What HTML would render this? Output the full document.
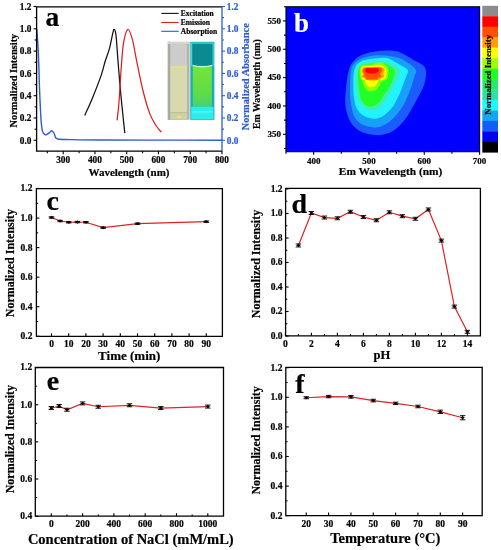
<!DOCTYPE html><html><head><meta charset="utf-8"><style>html,body{margin:0;padding:0;background:#fff}svg{display:block;will-change:transform}text{font-family:"Liberation Serif", serif;font-weight:bold}</style></head><body>
<svg width="501" height="550" viewBox="0 0 501 550">
<rect width="501" height="550" fill="#fff"/>
<rect x="167.8" y="41.8" width="21.8" height="78" fill="#b4b5aa"/>
<rect x="167.8" y="41.8" width="2.5" height="78" fill="#a8a9a0"/>
<rect x="168" y="42" width="21.4" height="2" fill="#d6d6cc"/>
<rect x="170.3" y="43.8" width="16.7" height="21.4" fill="#cbcccb"/>
<rect x="170.3" y="65.2" width="16.7" height="47.4" fill="#d8daae"/>
<rect x="170.3" y="66.6" width="16.7" height="1.2" fill="#e2e28e"/>
<rect x="170.3" y="112.6" width="16.7" height="6.6" fill="#cfd0a8"/>
<rect x="170.3" y="112.3" width="16.7" height="0.8" fill="#b9b990"/>
<ellipse cx="179.3" cy="117" rx="2.8" ry="1.2" fill="#e8e870"/>
<rect x="190.3" y="41.8" width="24.1" height="78" fill="#18b0b4"/>
<rect x="191.1" y="42.6" width="22.5" height="23.6" fill="#3ee0e4"/>
<rect x="192.2" y="43.7" width="20.4" height="22.2" fill="#0b8a91"/>
<defs><linearGradient id="gv" x1="0" y1="0" x2="0" y2="1"><stop offset="0" stop-color="#76e43a"/><stop offset="0.7" stop-color="#5edc48"/><stop offset="1" stop-color="#46d076"/></linearGradient></defs>
<rect x="192.8" y="65.9" width="19" height="41" fill="url(#gv)"/>
<path d="M192.5,65.3Q202.4,68.4 212.3,65.3" fill="none" stroke="#c8f4ee" stroke-width="1.1"/>
<rect x="191.2" y="106.8" width="22.3" height="12.2" fill="#28eeee"/>
<rect x="192.5" y="111.5" width="19.5" height="0.9" fill="#7af6f6"/>
<path d="M36.8,29.1C37.07,33.25 37.95,44.18 38.4,54C38.85,63.82 39.08,77.38 39.5,88C39.92,98.62 40.4,110.47 40.9,117.7C41.4,124.93 41.73,128.55 42.5,131.4C43.27,134.25 44.5,134.45 45.5,134.8C46.5,135.15 47.48,134.18 48.5,133.5C49.52,132.82 50.7,130.78 51.6,130.7C52.5,130.62 53.15,131.75 53.9,133C54.65,134.25 55.08,137.15 56.1,138.2C57.12,139.25 57.68,139.07 60,139.3C62.32,139.53 63.33,139.48 70,139.6C76.67,139.72 86.67,139.92 100,140C113.33,140.08 129.67,140.07 150,140.1C170.33,140.13 210,140.18 222,140.2" fill="none" stroke="#2b5cd2" stroke-width="1.4"/>
<path d="M84.8,115.4C86.18,112.23 90.33,103.2 93.1,96.4C95.87,89.6 99.4,80.42 101.4,74.6C103.4,68.78 103.75,65.87 105.1,61.5C106.45,57.13 108.22,53.13 109.5,48.4C110.78,43.67 112,36.27 112.8,33.1C113.6,29.93 113.77,29.03 114.3,29.4C114.83,29.77 115.35,29.58 116,35.3C116.65,41.02 117.47,54.6 118.2,63.7C118.93,72.8 119.6,81.18 120.4,89.9C121.2,98.62 122.27,108.8 123,116C123.73,123.2 124.5,130.25 124.8,133.1" fill="none" stroke="#111" stroke-width="1.25"/>
<path d="M117.1,120.4C117.4,117.5 118.17,112.45 118.9,103C119.63,93.55 120.7,73.9 121.5,63.7C122.3,53.5 122.62,47.52 123.7,41.8C124.78,36.08 126.55,29.75 128,29.4C129.45,29.05 130.87,33.98 132.4,39.7C133.93,45.42 135.38,54.98 137.2,63.7C139.02,72.42 141.18,83.63 143.3,92C145.42,100.37 147.78,108.32 149.9,113.9C152.02,119.48 154.1,122.45 156,125.5C157.9,128.55 160.42,131.08 161.3,132.2" fill="none" stroke="#dd2020" stroke-width="1.25"/>
<path d="M222,6.8H36.6M36.6,6.8V151.2H222" fill="none" stroke="#000" stroke-width="1.3"/>
<line x1="222" y1="6.2" x2="222" y2="151.8" stroke="#2b5cd2" stroke-width="1.3"/>
<line x1="33.6" y1="140.3" x2="36.6" y2="140.3" stroke="#000" stroke-width="1.1"/>
<line x1="222" y1="140.3" x2="225" y2="140.3" stroke="#2b5cd2" stroke-width="1.1"/>
<text x="31.4" y="143.6" text-anchor="end" font-size="9.3" fill="#000" stroke="#000" stroke-width="0.2">0.0</text>
<text x="226.8" y="143.6" text-anchor="start" font-size="9.3" fill="#2b5cd2" stroke="#2b5cd2" stroke-width="0.2">0.0</text>
<line x1="34.6" y1="129.15" x2="36.6" y2="129.15" stroke="#000" stroke-width="1.1"/>
<line x1="222" y1="129.15" x2="224" y2="129.15" stroke="#2b5cd2" stroke-width="1.1"/>
<line x1="33.6" y1="118" x2="36.6" y2="118" stroke="#000" stroke-width="1.1"/>
<line x1="222" y1="118" x2="225" y2="118" stroke="#2b5cd2" stroke-width="1.1"/>
<text x="31.4" y="121.3" text-anchor="end" font-size="9.3" fill="#000" stroke="#000" stroke-width="0.2">0.2</text>
<text x="226.8" y="121.3" text-anchor="start" font-size="9.3" fill="#2b5cd2" stroke="#2b5cd2" stroke-width="0.2">0.2</text>
<line x1="34.6" y1="106.85" x2="36.6" y2="106.85" stroke="#000" stroke-width="1.1"/>
<line x1="222" y1="106.85" x2="224" y2="106.85" stroke="#2b5cd2" stroke-width="1.1"/>
<line x1="33.6" y1="95.7" x2="36.6" y2="95.7" stroke="#000" stroke-width="1.1"/>
<line x1="222" y1="95.7" x2="225" y2="95.7" stroke="#2b5cd2" stroke-width="1.1"/>
<text x="31.4" y="99" text-anchor="end" font-size="9.3" fill="#000" stroke="#000" stroke-width="0.2">0.4</text>
<text x="226.8" y="99" text-anchor="start" font-size="9.3" fill="#2b5cd2" stroke="#2b5cd2" stroke-width="0.2">0.4</text>
<line x1="34.6" y1="84.55" x2="36.6" y2="84.55" stroke="#000" stroke-width="1.1"/>
<line x1="222" y1="84.55" x2="224" y2="84.55" stroke="#2b5cd2" stroke-width="1.1"/>
<line x1="33.6" y1="73.4" x2="36.6" y2="73.4" stroke="#000" stroke-width="1.1"/>
<line x1="222" y1="73.4" x2="225" y2="73.4" stroke="#2b5cd2" stroke-width="1.1"/>
<text x="31.4" y="76.7" text-anchor="end" font-size="9.3" fill="#000" stroke="#000" stroke-width="0.2">0.6</text>
<text x="226.8" y="76.7" text-anchor="start" font-size="9.3" fill="#2b5cd2" stroke="#2b5cd2" stroke-width="0.2">0.6</text>
<line x1="34.6" y1="62.25" x2="36.6" y2="62.25" stroke="#000" stroke-width="1.1"/>
<line x1="222" y1="62.25" x2="224" y2="62.25" stroke="#2b5cd2" stroke-width="1.1"/>
<line x1="33.6" y1="51.1" x2="36.6" y2="51.1" stroke="#000" stroke-width="1.1"/>
<line x1="222" y1="51.1" x2="225" y2="51.1" stroke="#2b5cd2" stroke-width="1.1"/>
<text x="31.4" y="54.4" text-anchor="end" font-size="9.3" fill="#000" stroke="#000" stroke-width="0.2">0.8</text>
<text x="226.8" y="54.4" text-anchor="start" font-size="9.3" fill="#2b5cd2" stroke="#2b5cd2" stroke-width="0.2">0.8</text>
<line x1="34.6" y1="39.95" x2="36.6" y2="39.95" stroke="#000" stroke-width="1.1"/>
<line x1="222" y1="39.95" x2="224" y2="39.95" stroke="#2b5cd2" stroke-width="1.1"/>
<line x1="33.6" y1="28.8" x2="36.6" y2="28.8" stroke="#000" stroke-width="1.1"/>
<line x1="222" y1="28.8" x2="225" y2="28.8" stroke="#2b5cd2" stroke-width="1.1"/>
<text x="31.4" y="32.1" text-anchor="end" font-size="9.3" fill="#000" stroke="#000" stroke-width="0.2">1.0</text>
<text x="226.8" y="32.1" text-anchor="start" font-size="9.3" fill="#2b5cd2" stroke="#2b5cd2" stroke-width="0.2">1.0</text>
<line x1="34.6" y1="17.65" x2="36.6" y2="17.65" stroke="#000" stroke-width="1.1"/>
<line x1="222" y1="17.65" x2="224" y2="17.65" stroke="#2b5cd2" stroke-width="1.1"/>
<line x1="33.6" y1="6.5" x2="36.6" y2="6.5" stroke="#000" stroke-width="1.1"/>
<line x1="222" y1="6.5" x2="225" y2="6.5" stroke="#2b5cd2" stroke-width="1.1"/>
<text x="31.4" y="9.8" text-anchor="end" font-size="9.3" fill="#000" stroke="#000" stroke-width="0.2">1.2</text>
<text x="226.8" y="9.8" text-anchor="start" font-size="9.3" fill="#2b5cd2" stroke="#2b5cd2" stroke-width="0.2">1.2</text>
<line x1="47.33" y1="151.2" x2="47.33" y2="153.2" stroke="#000" stroke-width="1.1"/>
<line x1="63.2" y1="151.2" x2="63.2" y2="154.2" stroke="#000" stroke-width="1.1"/>
<text x="63.2" y="163" text-anchor="middle" font-size="9.3" fill="#000" stroke="#000" stroke-width="0.2">300</text>
<line x1="79.08" y1="151.2" x2="79.08" y2="153.2" stroke="#000" stroke-width="1.1"/>
<line x1="94.95" y1="151.2" x2="94.95" y2="154.2" stroke="#000" stroke-width="1.1"/>
<text x="94.95" y="163" text-anchor="middle" font-size="9.3" fill="#000" stroke="#000" stroke-width="0.2">400</text>
<line x1="110.83" y1="151.2" x2="110.83" y2="153.2" stroke="#000" stroke-width="1.1"/>
<line x1="126.7" y1="151.2" x2="126.7" y2="154.2" stroke="#000" stroke-width="1.1"/>
<text x="126.7" y="163" text-anchor="middle" font-size="9.3" fill="#000" stroke="#000" stroke-width="0.2">500</text>
<line x1="142.57" y1="151.2" x2="142.57" y2="153.2" stroke="#000" stroke-width="1.1"/>
<line x1="158.45" y1="151.2" x2="158.45" y2="154.2" stroke="#000" stroke-width="1.1"/>
<text x="158.45" y="163" text-anchor="middle" font-size="9.3" fill="#000" stroke="#000" stroke-width="0.2">600</text>
<line x1="174.32" y1="151.2" x2="174.32" y2="153.2" stroke="#000" stroke-width="1.1"/>
<line x1="190.2" y1="151.2" x2="190.2" y2="154.2" stroke="#000" stroke-width="1.1"/>
<text x="190.2" y="163" text-anchor="middle" font-size="9.3" fill="#000" stroke="#000" stroke-width="0.2">700</text>
<line x1="206.07" y1="151.2" x2="206.07" y2="153.2" stroke="#000" stroke-width="1.1"/>
<line x1="221.95" y1="151.2" x2="221.95" y2="154.2" stroke="#000" stroke-width="1.1"/>
<text x="221.95" y="163" text-anchor="middle" font-size="9.3" fill="#000" stroke="#000" stroke-width="0.2">800</text>
<text x="129" y="175.93" text-anchor="middle" font-size="11" fill="#000" stroke="#000" stroke-width="0.2">Wavelength (nm)</text>
<text transform="translate(17.2,80.6) rotate(-90)" text-anchor="middle" font-size="10.4" fill="#000" stroke="#000" stroke-width="0.2">Normalized Intensity</text>
<text transform="translate(248.6,76.8) rotate(-90)" text-anchor="middle" font-size="10.4" fill="#2b5cd2" stroke="#2b5cd2" stroke-width="0.2">Normalized Absorbance</text>
<text x="45.4" y="26" text-anchor="start" font-size="27.5" fill="#000" stroke="#000" stroke-width="0.2">a</text>
<line x1="161.3" y1="13.4" x2="178.7" y2="13.4" stroke="#111" stroke-width="1.1"/>
<text x="180.8" y="16" text-anchor="start" font-size="7.5" fill="#000" stroke="#000" stroke-width="0.2">Excitation</text>
<line x1="161.3" y1="22.5" x2="178.7" y2="22.5" stroke="#dd2020" stroke-width="1.1"/>
<text x="180.8" y="25.1" text-anchor="start" font-size="7.5" fill="#000" stroke="#000" stroke-width="0.2">Emission</text>
<line x1="161.3" y1="31.3" x2="178.7" y2="31.3" stroke="#2b5cd2" stroke-width="1.1"/>
<text x="180.8" y="33.9" text-anchor="start" font-size="7.5" fill="#000" stroke="#000" stroke-width="0.2">Absorption</text>
<rect x="286" y="6.7" width="193.6" height="145" fill="#0000fe"/>
<defs><filter id="hb" x="-10%" y="-10%" width="120%" height="120%"><feGaussianBlur stdDeviation="0.55"/></filter></defs>
<g filter="url(#hb)">
<path d="M352,63C353.42,61.17 355.67,58.58 358,57C360.33,55.42 363.17,54.42 366,53.5C368.83,52.58 371.83,52 375,51.5C378.17,51 382.33,50.65 385,50.5C387.67,50.35 388.67,50.35 391,50.6C393.33,50.85 396.5,51.18 399,52C401.5,52.82 403.5,54.13 406,55.5C408.5,56.87 411.5,58.82 414,60.2C416.5,61.58 419.17,62.58 421,63.8C422.83,65.02 424.17,65.97 425,67.5C425.83,69.03 425.93,70.92 426,73C426.07,75.08 425.9,77.5 425.4,80C424.9,82.5 424.02,85.5 423,88C421.98,90.5 420.55,92.67 419.3,95C418.05,97.33 416.8,99.67 415.5,102C414.2,104.33 412.83,106.67 411.5,109C410.17,111.33 408.92,113.83 407.5,116C406.08,118.17 404.75,120 403,122C401.25,124 399.17,126.25 397,128C394.83,129.75 392.67,131.33 390,132.5C387.33,133.67 383.83,134.62 381,135C378.17,135.38 375.5,135.05 373,134.8C370.5,134.55 368.33,134.22 366,133.5C363.67,132.78 361.17,131.83 359,130.5C356.83,129.17 354.67,127.42 353,125.5C351.33,123.58 350.08,121.25 349,119C347.92,116.75 347.12,114.5 346.5,112C345.88,109.5 345.48,106.83 345.3,104C345.12,101.17 345.23,98.17 345.4,95C345.57,91.83 345.95,88.17 346.3,85C346.65,81.83 346.97,78.83 347.5,76C348.03,73.17 348.75,70.17 349.5,68C350.25,65.83 350.58,64.83 352,63Z" fill="#1a5cff"/>
<path d="M351,70C351.47,67.5 352,66.5 353,65C354,63.5 355.33,62.17 357,61C358.67,59.83 360.83,58.83 363,58C365.17,57.17 367.17,56.45 370,56C372.83,55.55 376.67,55.3 380,55.3C383.33,55.3 386.67,55.52 390,56C393.33,56.48 397.17,57.17 400,58.2C402.83,59.23 404.83,60.82 407,62.2C409.17,63.58 411.45,65.03 413,66.5C414.55,67.97 415.97,69.58 416.3,71C416.63,72.42 415.38,73.83 415,75C414.62,76.17 414.5,76.33 414,78C413.5,79.67 412.83,82.5 412,85C411.17,87.5 410,90.5 409,93C408,95.5 407,97.83 406,100C405,102.17 404.33,103.83 403,106C401.67,108.17 399.67,110.92 398,113C396.33,115.08 395,116.67 393,118.5C391,120.33 388.5,122.55 386,124C383.5,125.45 380.33,126.65 378,127.2C375.67,127.75 374.17,127.53 372,127.3C369.83,127.07 367.33,126.77 365,125.8C362.67,124.83 359.83,123.13 358,121.5C356.17,119.87 355,118.08 354,116C353,113.92 352.58,111.67 352,109C351.42,106.33 350.83,103.17 350.5,100C350.17,96.83 350.05,93.33 350,90C349.95,86.67 350.03,83.33 350.2,80C350.37,76.67 350.53,72.5 351,70Z" fill="#18a0f8"/>
<path d="M353.8,72C354.17,70.17 354.8,68.42 355.5,67C356.2,65.58 356.75,64.58 358,63.5C359.25,62.42 361,61.25 363,60.5C365,59.75 367.17,59.42 370,59C372.83,58.58 377,58.12 380,58C383,57.88 385.5,57.63 388,58.3C390.5,58.97 392.67,60.72 395,62C397.33,63.28 400,64.83 402,66C404,67.17 406,68 407,69C408,70 408.17,70.67 408,72C407.83,73.33 406.83,74.83 406,77C405.17,79.17 404,82.33 403,85C402,87.67 401.17,90.33 400,93C398.83,95.67 397.17,98.75 396,101C394.83,103.25 394.17,104.83 393,106.5C391.83,108.17 390.42,109.58 389,111C387.58,112.42 386.33,113.78 384.5,115C382.67,116.22 380.08,117.72 378,118.3C375.92,118.88 374,118.72 372,118.5C370,118.28 368,117.92 366,117C364,116.08 361.58,114.5 360,113C358.42,111.5 357.33,109.67 356.5,108C355.67,106.33 355.48,105.17 355,103C354.52,100.83 353.88,98 353.6,95C353.32,92 353.35,87.83 353.3,85C353.25,82.17 353.22,80.17 353.3,78C353.38,75.83 353.43,73.83 353.8,72Z" fill="#22f4ff"/>
<path d="M356,72C356.32,69.5 356.83,68.28 357.5,67C358.17,65.72 358.75,65.08 360,64.3C361.25,63.52 363,62.85 365,62.3C367,61.75 369.5,61.22 372,61C374.5,60.78 377.33,60.75 380,61C382.67,61.25 385.83,61.83 388,62.5C390.17,63.17 391.17,64 393,65C394.83,66 397.83,67.33 399,68.5C400.17,69.67 400.17,70.58 400,72C399.83,73.42 398.83,75.17 398,77C397.17,78.83 396,81 395,83C394,85 393.17,86.67 392,89C390.83,91.33 389.33,94.67 388,97C386.67,99.33 385.5,101.17 384,103C382.5,104.83 380.92,106.75 379,108C377.08,109.25 374.67,110.33 372.5,110.5C370.33,110.67 367.92,109.92 366,109C364.08,108.08 362.33,106.83 361,105C359.67,103.17 358.77,100.5 358,98C357.23,95.5 356.8,92.67 356.4,90C356,87.33 355.67,85 355.6,82C355.53,79 355.68,74.5 356,72Z" fill="#3cf0b0"/>
<path d="M358,72C358.25,70.25 358.83,68.62 359.5,67.5C360.17,66.38 360.58,65.88 362,65.3C363.42,64.72 365.83,64.25 368,64C370.17,63.75 372.33,63.92 375,63.8C377.67,63.68 381.5,62.88 384,63.3C386.5,63.72 388.33,65.35 390,66.3C391.67,67.25 393.17,68.05 394,69C394.83,69.95 395,70.67 395,72C395,73.33 394.67,75 394,77C393.33,79 392,81.83 391,84C390,86.17 389.08,88.33 388,90C386.92,91.67 385.67,92.23 384.5,94C383.33,95.77 382.42,98.77 381,100.6C379.58,102.43 377.83,104 376,105C374.17,106 372,106.77 370,106.6C368,106.43 365.58,105.43 364,104C362.42,102.57 361.3,100.33 360.5,98C359.7,95.67 359.52,92.17 359.2,90C358.88,87.83 358.8,87 358.6,85C358.4,83 358.1,80.17 358,78C357.9,75.83 357.75,73.75 358,72Z" fill="#22ff28"/>
<path d="M359.8,70C360,68.75 360.13,67.33 361,66.5C361.87,65.67 363.17,65.33 365,65C366.83,64.67 369.5,64.92 372,64.5C374.5,64.08 377.67,62.33 380,62.5C382.33,62.67 384.58,64.25 386,65.5C387.42,66.75 388.17,68.25 388.5,70C388.83,71.75 388.42,74.33 388,76C387.58,77.67 387.17,79 386,80C384.83,81 382,81.17 381,82C380,82.83 380.58,83.92 380,85C379.42,86.08 378.42,87.53 377.5,88.5C376.58,89.47 375.5,90.3 374.5,90.8C373.5,91.3 372.58,91.5 371.5,91.5C370.42,91.5 369.08,91.38 368,90.8C366.92,90.22 365.75,88.97 365,88C364.25,87.03 363.92,86 363.5,85C363.08,84 363,83.17 362.5,82C362,80.83 360.95,79.33 360.5,78C360.05,76.67 359.92,75.33 359.8,74C359.68,72.67 359.6,71.25 359.8,70Z" fill="#90ff00"/>
<path d="M361.4,69C361.67,67.58 361.57,67 363,66.5C364.43,66 367.17,66.25 370,66C372.83,65.75 377.5,64.67 380,65C382.5,65.33 383.92,67 385,68C386.08,69 386.33,69.67 386.5,71C386.67,72.33 386.42,74.58 386,76C385.58,77.42 385.23,78.83 384,79.5C382.77,80.17 379.63,79.5 378.6,80C377.57,80.5 378.23,81.67 377.8,82.5C377.37,83.33 376.72,84.28 376,85C375.28,85.72 374.28,86.43 373.5,86.8C372.72,87.17 372.05,87.22 371.3,87.2C370.55,87.18 369.72,87.07 369,86.7C368.28,86.33 367.58,85.7 367,85C366.42,84.3 365.87,83.33 365.5,82.5C365.13,81.67 365.3,80.5 364.8,80C364.3,79.5 363.07,80.33 362.5,79.5C361.93,78.67 361.58,76.75 361.4,75C361.22,73.25 361.13,70.42 361.4,69Z" fill="#ffff00"/>
<path d="M361.8,70C362.17,69.22 362.3,67.8 364,67.3C365.7,66.8 369.33,67.08 372,67C374.67,66.92 378,66.55 380,66.8C382,67.05 383.25,67.8 384,68.5C384.75,69.2 384.67,70.17 384.5,71C384.33,71.83 383,72.58 383,73.5C383,74.42 384.83,75.67 384.5,76.5C384.17,77.33 382,77.92 381,78.5C380,79.08 380,79.68 378.5,80C377,80.32 374.08,80.4 372,80.4C369.92,80.4 367.25,80.37 366,80C364.75,79.63 365.17,78.7 364.5,78.2C363.83,77.7 362.28,77.7 362,77C361.72,76.3 362.83,74.83 362.8,74C362.77,73.17 361.97,72.67 361.8,72C361.63,71.33 361.43,70.78 361.8,70Z" fill="#ffa000"/>
<path d="M363,70C363.33,69.33 363.5,68.38 365,68C366.5,67.62 369.5,67.73 372,67.7C374.5,67.67 378.33,67.5 380,67.8C381.67,68.1 381.75,68.8 382,69.5C382.25,70.2 381.83,71.25 381.5,72C381.17,72.75 380,73.25 380,74C380,74.75 381.83,75.92 381.5,76.5C381.17,77.08 378.67,77.03 378,77.5C377.33,77.97 378.5,78.95 377.5,79.3C376.5,79.65 373.83,79.6 372,79.6C370.17,79.6 367.5,79.65 366.5,79.3C365.5,78.95 366.5,77.97 366,77.5C365.5,77.03 363.75,77.08 363.5,76.5C363.25,75.92 364.58,74.75 364.5,74C364.42,73.25 363.25,72.67 363,72C362.75,71.33 362.67,70.67 363,70Z" fill="#ff5000"/>
<path d="M365.3,69C365.58,68.53 365.88,68.37 367,68.2C368.12,68.03 370.33,68 372,68C373.67,68 375.87,67.95 377,68.2C378.13,68.45 378.63,68.9 378.8,69.5C378.97,70.1 378.63,71.18 378,71.8C377.37,72.42 376.33,72.93 375,73.2C373.67,73.47 371.42,73.5 370,73.4C368.58,73.3 367.28,73 366.5,72.6C365.72,72.2 365.5,71.6 365.3,71C365.1,70.4 365.02,69.47 365.3,69Z" fill="#ff0000"/>
</g>
<path d="M286,6.7H479.6V151.7H286Z" fill="none" stroke="#000" stroke-width="1.15"/>
<line x1="286" y1="151.7" x2="286" y2="153.7" stroke="#000" stroke-width="1.1"/>
<line x1="313.65" y1="151.7" x2="313.65" y2="154.7" stroke="#000" stroke-width="1.1"/>
<text x="313.65" y="164.3" text-anchor="middle" font-size="9" fill="#000" stroke="#000" stroke-width="0.2">400</text>
<line x1="341.31" y1="151.7" x2="341.31" y2="153.7" stroke="#000" stroke-width="1.1"/>
<line x1="368.97" y1="151.7" x2="368.97" y2="154.7" stroke="#000" stroke-width="1.1"/>
<text x="368.97" y="164.3" text-anchor="middle" font-size="9" fill="#000" stroke="#000" stroke-width="0.2">500</text>
<line x1="396.62" y1="151.7" x2="396.62" y2="153.7" stroke="#000" stroke-width="1.1"/>
<line x1="424.27" y1="151.7" x2="424.27" y2="154.7" stroke="#000" stroke-width="1.1"/>
<text x="424.27" y="164.3" text-anchor="middle" font-size="9" fill="#000" stroke="#000" stroke-width="0.2">600</text>
<line x1="451.93" y1="151.7" x2="451.93" y2="153.7" stroke="#000" stroke-width="1.1"/>
<line x1="479.59" y1="151.7" x2="479.59" y2="154.7" stroke="#000" stroke-width="1.1"/>
<text x="479.59" y="164.3" text-anchor="middle" font-size="9" fill="#000" stroke="#000" stroke-width="0.2">700</text>
<line x1="284" y1="148.48" x2="286" y2="148.48" stroke="#000" stroke-width="1.1"/>
<line x1="283" y1="134.3" x2="286" y2="134.3" stroke="#000" stroke-width="1.1"/>
<text x="281.1" y="136.9" text-anchor="end" font-size="9" fill="#000" stroke="#000" stroke-width="0.2">350</text>
<line x1="284" y1="120.13" x2="286" y2="120.13" stroke="#000" stroke-width="1.1"/>
<line x1="283" y1="105.95" x2="286" y2="105.95" stroke="#000" stroke-width="1.1"/>
<text x="281.1" y="108.55" text-anchor="end" font-size="9" fill="#000" stroke="#000" stroke-width="0.2">400</text>
<line x1="284" y1="91.78" x2="286" y2="91.78" stroke="#000" stroke-width="1.1"/>
<line x1="283" y1="77.6" x2="286" y2="77.6" stroke="#000" stroke-width="1.1"/>
<text x="281.1" y="80.2" text-anchor="end" font-size="9" fill="#000" stroke="#000" stroke-width="0.2">450</text>
<line x1="284" y1="63.43" x2="286" y2="63.43" stroke="#000" stroke-width="1.1"/>
<line x1="283" y1="49.25" x2="286" y2="49.25" stroke="#000" stroke-width="1.1"/>
<text x="281.1" y="51.85" text-anchor="end" font-size="9" fill="#000" stroke="#000" stroke-width="0.2">500</text>
<line x1="284" y1="35.08" x2="286" y2="35.08" stroke="#000" stroke-width="1.1"/>
<line x1="283" y1="20.9" x2="286" y2="20.9" stroke="#000" stroke-width="1.1"/>
<text x="281.1" y="23.5" text-anchor="end" font-size="9" fill="#000" stroke="#000" stroke-width="0.2">550</text>
<line x1="284" y1="6.73" x2="286" y2="6.73" stroke="#000" stroke-width="1.1"/>
<text x="390.6" y="175.16" text-anchor="middle" font-size="11.4" fill="#000" stroke="#000" stroke-width="0.2">Em Wavelength (nm)</text>
<text transform="translate(260.2,84.2) rotate(-90)" text-anchor="middle" font-size="9.9" fill="#000" stroke="#000" stroke-width="0.2">Em Wavelength (nm)</text>
<text x="294" y="32" text-anchor="start" font-size="27" fill="#fff" stroke="#fff" stroke-width="0.2">b</text>
<rect x="482.3" y="5.8" width="15.7" height="10.76" fill="#8c8c8c"/>
<rect x="482.3" y="16.26" width="15.7" height="10.76" fill="#ff0000"/>
<rect x="482.3" y="26.73" width="15.7" height="10.76" fill="#ff5000"/>
<rect x="482.3" y="37.19" width="15.7" height="10.76" fill="#ffa000"/>
<rect x="482.3" y="47.66" width="15.7" height="10.76" fill="#ffff00"/>
<rect x="482.3" y="58.12" width="15.7" height="10.76" fill="#a0ff00"/>
<rect x="482.3" y="68.59" width="15.7" height="10.76" fill="#20ff20"/>
<rect x="482.3" y="79.05" width="15.7" height="10.76" fill="#20f060"/>
<rect x="482.3" y="89.51" width="15.7" height="10.76" fill="#30e0a0"/>
<rect x="482.3" y="99.98" width="15.7" height="10.76" fill="#20f8ff"/>
<rect x="482.3" y="110.44" width="15.7" height="10.76" fill="#10a8f0"/>
<rect x="482.3" y="120.91" width="15.7" height="10.76" fill="#1060f8"/>
<rect x="482.3" y="131.37" width="15.7" height="10.76" fill="#0000f0"/>
<rect x="482.3" y="141.84" width="15.7" height="10.76" fill="#000000"/>
<text transform="translate(491.4,74.8) rotate(-90)" text-anchor="middle" font-size="8.85" fill="#000" stroke="#000" stroke-width="0.2">Normalized Intensity</text>
<polyline points="51.5,217.47 60.1,221.02 68.7,222.27 77.3,222.05 85.9,222.27 103.1,227.67 137.5,223.68 206.3,221.67" fill="none" stroke="#dd2222" stroke-width="1.2"/>
<path d="M36.4,188.6H222.4V336.3H36.4Z" fill="none" stroke="#000" stroke-width="1.3"/>
<line x1="51.5" y1="336.3" x2="51.5" y2="333.3" stroke="#000" stroke-width="1.1"/>
<text x="51.5" y="347.3" text-anchor="middle" font-size="9.5" fill="#000" stroke="#000" stroke-width="0.2">0</text>
<line x1="68.7" y1="336.3" x2="68.7" y2="333.3" stroke="#000" stroke-width="1.1"/>
<text x="68.7" y="347.3" text-anchor="middle" font-size="9.5" fill="#000" stroke="#000" stroke-width="0.2">10</text>
<line x1="85.9" y1="336.3" x2="85.9" y2="333.3" stroke="#000" stroke-width="1.1"/>
<text x="85.9" y="347.3" text-anchor="middle" font-size="9.5" fill="#000" stroke="#000" stroke-width="0.2">20</text>
<line x1="103.1" y1="336.3" x2="103.1" y2="333.3" stroke="#000" stroke-width="1.1"/>
<text x="103.1" y="347.3" text-anchor="middle" font-size="9.5" fill="#000" stroke="#000" stroke-width="0.2">30</text>
<line x1="120.3" y1="336.3" x2="120.3" y2="333.3" stroke="#000" stroke-width="1.1"/>
<text x="120.3" y="347.3" text-anchor="middle" font-size="9.5" fill="#000" stroke="#000" stroke-width="0.2">40</text>
<line x1="137.5" y1="336.3" x2="137.5" y2="333.3" stroke="#000" stroke-width="1.1"/>
<text x="137.5" y="347.3" text-anchor="middle" font-size="9.5" fill="#000" stroke="#000" stroke-width="0.2">50</text>
<line x1="154.7" y1="336.3" x2="154.7" y2="333.3" stroke="#000" stroke-width="1.1"/>
<text x="154.7" y="347.3" text-anchor="middle" font-size="9.5" fill="#000" stroke="#000" stroke-width="0.2">60</text>
<line x1="171.9" y1="336.3" x2="171.9" y2="333.3" stroke="#000" stroke-width="1.1"/>
<text x="171.9" y="347.3" text-anchor="middle" font-size="9.5" fill="#000" stroke="#000" stroke-width="0.2">70</text>
<line x1="189.1" y1="336.3" x2="189.1" y2="333.3" stroke="#000" stroke-width="1.1"/>
<text x="189.1" y="347.3" text-anchor="middle" font-size="9.5" fill="#000" stroke="#000" stroke-width="0.2">80</text>
<line x1="206.3" y1="336.3" x2="206.3" y2="333.3" stroke="#000" stroke-width="1.1"/>
<text x="206.3" y="347.3" text-anchor="middle" font-size="9.5" fill="#000" stroke="#000" stroke-width="0.2">90</text>
<line x1="36.4" y1="321.52" x2="38.2" y2="321.52" stroke="#000" stroke-width="1"/>
<line x1="36.4" y1="291.96" x2="38.2" y2="291.96" stroke="#000" stroke-width="1"/>
<line x1="36.4" y1="262.4" x2="38.2" y2="262.4" stroke="#000" stroke-width="1"/>
<line x1="36.4" y1="232.84" x2="38.2" y2="232.84" stroke="#000" stroke-width="1"/>
<line x1="36.4" y1="203.28" x2="38.2" y2="203.28" stroke="#000" stroke-width="1"/>
<line x1="36.4" y1="336.3" x2="39.4" y2="336.3" stroke="#000" stroke-width="1.1"/>
<text x="32.4" y="339.2" text-anchor="end" font-size="9.5" fill="#000" stroke="#000" stroke-width="0.2">0.2</text>
<line x1="36.4" y1="306.74" x2="39.4" y2="306.74" stroke="#000" stroke-width="1.1"/>
<text x="32.4" y="309.64" text-anchor="end" font-size="9.5" fill="#000" stroke="#000" stroke-width="0.2">0.4</text>
<line x1="36.4" y1="277.18" x2="39.4" y2="277.18" stroke="#000" stroke-width="1.1"/>
<text x="32.4" y="280.08" text-anchor="end" font-size="9.5" fill="#000" stroke="#000" stroke-width="0.2">0.6</text>
<line x1="36.4" y1="247.62" x2="39.4" y2="247.62" stroke="#000" stroke-width="1.1"/>
<text x="32.4" y="250.52" text-anchor="end" font-size="9.5" fill="#000" stroke="#000" stroke-width="0.2">0.8</text>
<line x1="36.4" y1="218.06" x2="39.4" y2="218.06" stroke="#000" stroke-width="1.1"/>
<text x="32.4" y="220.96" text-anchor="end" font-size="9.5" fill="#000" stroke="#000" stroke-width="0.2">1.0</text>
<line x1="36.4" y1="188.5" x2="39.4" y2="188.5" stroke="#000" stroke-width="1.1"/>
<text x="32.4" y="191.4" text-anchor="end" font-size="9.5" fill="#000" stroke="#000" stroke-width="0.2">1.2</text>
<path d="M48.75,216.77H54.25M48.75,218.17H54.25M51.5,216.77V218.17" stroke="#000" stroke-width="0.9" fill="none"/>
<path d="M49.3,217.47L51.5,215.87L53.7,217.47L51.5,219.07Z" fill="#000"/>
<path d="M57.35,220.32H62.85M57.35,221.72H62.85M60.1,220.32V221.72" stroke="#000" stroke-width="0.9" fill="none"/>
<path d="M57.9,221.02L60.1,219.42L62.3,221.02L60.1,222.62Z" fill="#000"/>
<path d="M65.95,221.57H71.45M65.95,222.97H71.45M68.7,221.57V222.97" stroke="#000" stroke-width="0.9" fill="none"/>
<path d="M66.5,222.27L68.7,220.67L70.9,222.27L68.7,223.87Z" fill="#000"/>
<path d="M74.55,221.35H80.05M74.55,222.75H80.05M77.3,221.35V222.75" stroke="#000" stroke-width="0.9" fill="none"/>
<path d="M75.1,222.05L77.3,220.45L79.5,222.05L77.3,223.65Z" fill="#000"/>
<path d="M83.15,221.57H88.65M83.15,222.97H88.65M85.9,221.57V222.97" stroke="#000" stroke-width="0.9" fill="none"/>
<path d="M83.7,222.27L85.9,220.67L88.1,222.27L85.9,223.87Z" fill="#000"/>
<path d="M100.35,226.97H105.85M100.35,228.37H105.85M103.1,226.97V228.37" stroke="#000" stroke-width="0.9" fill="none"/>
<path d="M100.9,227.67L103.1,226.07L105.3,227.67L103.1,229.27Z" fill="#000"/>
<path d="M134.75,222.98H140.25M134.75,224.38H140.25M137.5,222.98V224.38" stroke="#000" stroke-width="0.9" fill="none"/>
<path d="M135.3,223.68L137.5,222.08L139.7,223.68L137.5,225.28Z" fill="#000"/>
<path d="M203.55,220.97H209.05M203.55,222.37H209.05M206.3,220.97V222.37" stroke="#000" stroke-width="0.9" fill="none"/>
<path d="M204.1,221.67L206.3,220.07L208.5,221.67L206.3,223.27Z" fill="#000"/>
<text x="46.6" y="210.4" text-anchor="start" font-size="28" fill="#000" stroke="#000" stroke-width="0.2">c</text>
<text x="129.2" y="360.29" text-anchor="middle" font-size="13" fill="#000" stroke="#000" stroke-width="0.2">Time (min)</text>
<text transform="translate(13.9,263.1) rotate(-90)" text-anchor="middle" font-size="12" fill="#000" stroke="#000" stroke-width="0.2">Normalized Intensity</text>
<polyline points="298.4,245.47 311.4,213.01 324.4,217.54 337.4,218.28 350.4,211.78 363.4,217.05 376.4,220.24 389.4,212.28 402.4,216.19 415.4,218.77 428.4,209.46 441.4,240.57 454.4,306.6 467.4,331.83" fill="none" stroke="#dd2222" stroke-width="1.2"/>
<path d="M285.6,188.3H480.4V335.8H285.6Z" fill="none" stroke="#000" stroke-width="1.3"/>
<line x1="298.4" y1="335.8" x2="298.4" y2="334" stroke="#000" stroke-width="1"/>
<line x1="324.4" y1="335.8" x2="324.4" y2="334" stroke="#000" stroke-width="1"/>
<line x1="350.4" y1="335.8" x2="350.4" y2="334" stroke="#000" stroke-width="1"/>
<line x1="376.4" y1="335.8" x2="376.4" y2="334" stroke="#000" stroke-width="1"/>
<line x1="402.4" y1="335.8" x2="402.4" y2="334" stroke="#000" stroke-width="1"/>
<line x1="428.4" y1="335.8" x2="428.4" y2="334" stroke="#000" stroke-width="1"/>
<line x1="454.4" y1="335.8" x2="454.4" y2="334" stroke="#000" stroke-width="1"/>
<line x1="285.4" y1="335.8" x2="285.4" y2="332.8" stroke="#000" stroke-width="1.1"/>
<text x="285.4" y="346.9" text-anchor="middle" font-size="9.5" fill="#000" stroke="#000" stroke-width="0.2">0</text>
<line x1="311.4" y1="335.8" x2="311.4" y2="332.8" stroke="#000" stroke-width="1.1"/>
<text x="311.4" y="346.9" text-anchor="middle" font-size="9.5" fill="#000" stroke="#000" stroke-width="0.2">2</text>
<line x1="337.4" y1="335.8" x2="337.4" y2="332.8" stroke="#000" stroke-width="1.1"/>
<text x="337.4" y="346.9" text-anchor="middle" font-size="9.5" fill="#000" stroke="#000" stroke-width="0.2">4</text>
<line x1="363.4" y1="335.8" x2="363.4" y2="332.8" stroke="#000" stroke-width="1.1"/>
<text x="363.4" y="346.9" text-anchor="middle" font-size="9.5" fill="#000" stroke="#000" stroke-width="0.2">6</text>
<line x1="389.4" y1="335.8" x2="389.4" y2="332.8" stroke="#000" stroke-width="1.1"/>
<text x="389.4" y="346.9" text-anchor="middle" font-size="9.5" fill="#000" stroke="#000" stroke-width="0.2">8</text>
<line x1="415.4" y1="335.8" x2="415.4" y2="332.8" stroke="#000" stroke-width="1.1"/>
<text x="415.4" y="346.9" text-anchor="middle" font-size="9.5" fill="#000" stroke="#000" stroke-width="0.2">10</text>
<line x1="441.4" y1="335.8" x2="441.4" y2="332.8" stroke="#000" stroke-width="1.1"/>
<text x="441.4" y="346.9" text-anchor="middle" font-size="9.5" fill="#000" stroke="#000" stroke-width="0.2">12</text>
<line x1="467.4" y1="335.8" x2="467.4" y2="332.8" stroke="#000" stroke-width="1.1"/>
<text x="467.4" y="346.9" text-anchor="middle" font-size="9.5" fill="#000" stroke="#000" stroke-width="0.2">14</text>
<line x1="285.6" y1="323.75" x2="287.4" y2="323.75" stroke="#000" stroke-width="1"/>
<line x1="285.6" y1="299.25" x2="287.4" y2="299.25" stroke="#000" stroke-width="1"/>
<line x1="285.6" y1="274.75" x2="287.4" y2="274.75" stroke="#000" stroke-width="1"/>
<line x1="285.6" y1="250.25" x2="287.4" y2="250.25" stroke="#000" stroke-width="1"/>
<line x1="285.6" y1="225.75" x2="287.4" y2="225.75" stroke="#000" stroke-width="1"/>
<line x1="285.6" y1="201.25" x2="287.4" y2="201.25" stroke="#000" stroke-width="1"/>
<line x1="285.6" y1="336" x2="288.6" y2="336" stroke="#000" stroke-width="1.1"/>
<text x="282.6" y="338.9" text-anchor="end" font-size="9.5" fill="#000" stroke="#000" stroke-width="0.2">0.0</text>
<line x1="285.6" y1="311.5" x2="288.6" y2="311.5" stroke="#000" stroke-width="1.1"/>
<text x="282.6" y="314.4" text-anchor="end" font-size="9.5" fill="#000" stroke="#000" stroke-width="0.2">0.2</text>
<line x1="285.6" y1="287" x2="288.6" y2="287" stroke="#000" stroke-width="1.1"/>
<text x="282.6" y="289.9" text-anchor="end" font-size="9.5" fill="#000" stroke="#000" stroke-width="0.2">0.4</text>
<line x1="285.6" y1="262.5" x2="288.6" y2="262.5" stroke="#000" stroke-width="1.1"/>
<text x="282.6" y="265.4" text-anchor="end" font-size="9.5" fill="#000" stroke="#000" stroke-width="0.2">0.6</text>
<line x1="285.6" y1="238" x2="288.6" y2="238" stroke="#000" stroke-width="1.1"/>
<text x="282.6" y="240.9" text-anchor="end" font-size="9.5" fill="#000" stroke="#000" stroke-width="0.2">0.8</text>
<line x1="285.6" y1="213.5" x2="288.6" y2="213.5" stroke="#000" stroke-width="1.1"/>
<text x="282.6" y="216.4" text-anchor="end" font-size="9.5" fill="#000" stroke="#000" stroke-width="0.2">1.0</text>
<line x1="285.6" y1="189" x2="288.6" y2="189" stroke="#000" stroke-width="1.1"/>
<text x="282.6" y="191.9" text-anchor="end" font-size="9.5" fill="#000" stroke="#000" stroke-width="0.2">1.2</text>
<path d="M295.65,243.97H301.15M295.65,246.97H301.15M298.4,243.97V246.97" stroke="#000" stroke-width="0.9" fill="none"/>
<path d="M296.2,245.47L298.4,243.87L300.6,245.47L298.4,247.07Z" fill="#000"/>
<path d="M308.65,211.51H314.15M308.65,214.51H314.15M311.4,211.51V214.51" stroke="#000" stroke-width="0.9" fill="none"/>
<path d="M309.2,213.01L311.4,211.41L313.6,213.01L311.4,214.61Z" fill="#000"/>
<path d="M321.65,216.04H327.15M321.65,219.04H327.15M324.4,216.04V219.04" stroke="#000" stroke-width="0.9" fill="none"/>
<path d="M322.2,217.54L324.4,215.94L326.6,217.54L324.4,219.14Z" fill="#000"/>
<path d="M334.65,216.78H340.15M334.65,219.78H340.15M337.4,216.78V219.78" stroke="#000" stroke-width="0.9" fill="none"/>
<path d="M335.2,218.28L337.4,216.68L339.6,218.28L337.4,219.88Z" fill="#000"/>
<path d="M347.65,210.28H353.15M347.65,213.28H353.15M350.4,210.28V213.28" stroke="#000" stroke-width="0.9" fill="none"/>
<path d="M348.2,211.78L350.4,210.19L352.6,211.78L350.4,213.38Z" fill="#000"/>
<path d="M360.65,215.55H366.15M360.65,218.55H366.15M363.4,215.55V218.55" stroke="#000" stroke-width="0.9" fill="none"/>
<path d="M361.2,217.05L363.4,215.45L365.6,217.05L363.4,218.65Z" fill="#000"/>
<path d="M373.65,218.74H379.15M373.65,221.74H379.15M376.4,218.74V221.74" stroke="#000" stroke-width="0.9" fill="none"/>
<path d="M374.2,220.24L376.4,218.64L378.6,220.24L376.4,221.84Z" fill="#000"/>
<path d="M386.65,210.78H392.15M386.65,213.78H392.15M389.4,210.78V213.78" stroke="#000" stroke-width="0.9" fill="none"/>
<path d="M387.2,212.28L389.4,210.68L391.6,212.28L389.4,213.88Z" fill="#000"/>
<path d="M399.65,214.69H405.15M399.65,217.69H405.15M402.4,214.69V217.69" stroke="#000" stroke-width="0.9" fill="none"/>
<path d="M400.2,216.19L402.4,214.59L404.6,216.19L402.4,217.79Z" fill="#000"/>
<path d="M412.65,217.27H418.15M412.65,220.27H418.15M415.4,217.27V220.27" stroke="#000" stroke-width="0.9" fill="none"/>
<path d="M413.2,218.77L415.4,217.17L417.6,218.77L415.4,220.37Z" fill="#000"/>
<path d="M425.65,207.96H431.15M425.65,210.96H431.15M428.4,207.96V210.96" stroke="#000" stroke-width="0.9" fill="none"/>
<path d="M426.2,209.46L428.4,207.86L430.6,209.46L428.4,211.06Z" fill="#000"/>
<path d="M438.65,239.07H444.15M438.65,242.07H444.15M441.4,239.07V242.07" stroke="#000" stroke-width="0.9" fill="none"/>
<path d="M439.2,240.57L441.4,238.97L443.6,240.57L441.4,242.17Z" fill="#000"/>
<path d="M451.65,305.1H457.15M451.65,308.1H457.15M454.4,305.1V308.1" stroke="#000" stroke-width="0.9" fill="none"/>
<path d="M452.2,306.6L454.4,305L456.6,306.6L454.4,308.2Z" fill="#000"/>
<path d="M464.65,330.33H470.15M464.65,333.33H470.15M467.4,330.33V333.33" stroke="#000" stroke-width="0.9" fill="none"/>
<path d="M465.2,331.83L467.4,330.23L469.6,331.83L467.4,333.44Z" fill="#000"/>
<text x="291.5" y="212.9" text-anchor="start" font-size="28" fill="#000" stroke="#000" stroke-width="0.2">d</text>
<text x="381.8" y="358.76" text-anchor="middle" font-size="12.6" fill="#000" stroke="#000" stroke-width="0.2">pH</text>
<text transform="translate(259.7,264) rotate(-90)" text-anchor="middle" font-size="12" fill="#000" stroke="#000" stroke-width="0.2">Normalized Intensity</text>
<polyline points="51.3,408.06 59.12,406.02 66.95,409.74 82.6,403.42 98.25,406.76 129.55,405.28 160.85,408.06 207.8,406.58" fill="none" stroke="#dd2222" stroke-width="1.2"/>
<path d="M35.3,367.5H223.5V516.2H35.3Z" fill="none" stroke="#000" stroke-width="1.3"/>
<line x1="66.95" y1="516.2" x2="66.95" y2="514.4" stroke="#000" stroke-width="1"/>
<line x1="98.25" y1="516.2" x2="98.25" y2="514.4" stroke="#000" stroke-width="1"/>
<line x1="129.55" y1="516.2" x2="129.55" y2="514.4" stroke="#000" stroke-width="1"/>
<line x1="160.85" y1="516.2" x2="160.85" y2="514.4" stroke="#000" stroke-width="1"/>
<line x1="192.15" y1="516.2" x2="192.15" y2="514.4" stroke="#000" stroke-width="1"/>
<line x1="51.3" y1="516.2" x2="51.3" y2="513.2" stroke="#000" stroke-width="1.1"/>
<text x="51.3" y="527.1" text-anchor="middle" font-size="9.5" fill="#000" stroke="#000" stroke-width="0.2">0</text>
<line x1="82.6" y1="516.2" x2="82.6" y2="513.2" stroke="#000" stroke-width="1.1"/>
<text x="82.6" y="527.1" text-anchor="middle" font-size="9.5" fill="#000" stroke="#000" stroke-width="0.2">200</text>
<line x1="113.9" y1="516.2" x2="113.9" y2="513.2" stroke="#000" stroke-width="1.1"/>
<text x="113.9" y="527.1" text-anchor="middle" font-size="9.5" fill="#000" stroke="#000" stroke-width="0.2">400</text>
<line x1="145.2" y1="516.2" x2="145.2" y2="513.2" stroke="#000" stroke-width="1.1"/>
<text x="145.2" y="527.1" text-anchor="middle" font-size="9.5" fill="#000" stroke="#000" stroke-width="0.2">600</text>
<line x1="176.5" y1="516.2" x2="176.5" y2="513.2" stroke="#000" stroke-width="1.1"/>
<text x="176.5" y="527.1" text-anchor="middle" font-size="9.5" fill="#000" stroke="#000" stroke-width="0.2">800</text>
<line x1="207.8" y1="516.2" x2="207.8" y2="513.2" stroke="#000" stroke-width="1.1"/>
<text x="207.8" y="527.1" text-anchor="middle" font-size="9.5" fill="#000" stroke="#000" stroke-width="0.2">1000</text>
<line x1="35.3" y1="497.62" x2="37.1" y2="497.62" stroke="#000" stroke-width="1"/>
<line x1="35.3" y1="460.46" x2="37.1" y2="460.46" stroke="#000" stroke-width="1"/>
<line x1="35.3" y1="423.3" x2="37.1" y2="423.3" stroke="#000" stroke-width="1"/>
<line x1="35.3" y1="386.14" x2="37.1" y2="386.14" stroke="#000" stroke-width="1"/>
<line x1="35.3" y1="516.2" x2="38.3" y2="516.2" stroke="#000" stroke-width="1.1"/>
<text x="32.2" y="519.1" text-anchor="end" font-size="9.5" fill="#000" stroke="#000" stroke-width="0.2">0.4</text>
<line x1="35.3" y1="479.04" x2="38.3" y2="479.04" stroke="#000" stroke-width="1.1"/>
<text x="32.2" y="481.94" text-anchor="end" font-size="9.5" fill="#000" stroke="#000" stroke-width="0.2">0.6</text>
<line x1="35.3" y1="441.88" x2="38.3" y2="441.88" stroke="#000" stroke-width="1.1"/>
<text x="32.2" y="444.78" text-anchor="end" font-size="9.5" fill="#000" stroke="#000" stroke-width="0.2">0.8</text>
<line x1="35.3" y1="404.72" x2="38.3" y2="404.72" stroke="#000" stroke-width="1.1"/>
<text x="32.2" y="407.62" text-anchor="end" font-size="9.5" fill="#000" stroke="#000" stroke-width="0.2">1.0</text>
<line x1="35.3" y1="367.56" x2="38.3" y2="367.56" stroke="#000" stroke-width="1.1"/>
<text x="32.2" y="370.46" text-anchor="end" font-size="9.5" fill="#000" stroke="#000" stroke-width="0.2">1.2</text>
<path d="M48.55,406.56H54.05M48.55,409.56H54.05M51.3,406.56V409.56" stroke="#000" stroke-width="0.9" fill="none"/>
<path d="M49.1,408.06L51.3,406.46L53.5,408.06L51.3,409.66Z" fill="#000"/>
<path d="M56.38,404.52H61.88M56.38,407.52H61.88M59.12,404.52V407.52" stroke="#000" stroke-width="0.9" fill="none"/>
<path d="M56.92,406.02L59.12,404.42L61.33,406.02L59.12,407.62Z" fill="#000"/>
<path d="M64.2,408.24H69.7M64.2,411.24H69.7M66.95,408.24V411.24" stroke="#000" stroke-width="0.9" fill="none"/>
<path d="M64.75,409.74L66.95,408.14L69.15,409.74L66.95,411.34Z" fill="#000"/>
<path d="M79.85,401.92H85.35M79.85,404.92H85.35M82.6,401.92V404.92" stroke="#000" stroke-width="0.9" fill="none"/>
<path d="M80.4,403.42L82.6,401.82L84.8,403.42L82.6,405.02Z" fill="#000"/>
<path d="M95.5,405.26H101M95.5,408.26H101M98.25,405.26V408.26" stroke="#000" stroke-width="0.9" fill="none"/>
<path d="M96.05,406.76L98.25,405.16L100.45,406.76L98.25,408.36Z" fill="#000"/>
<path d="M126.8,403.78H132.3M126.8,406.78H132.3M129.55,403.78V406.78" stroke="#000" stroke-width="0.9" fill="none"/>
<path d="M127.35,405.28L129.55,403.68L131.75,405.28L129.55,406.88Z" fill="#000"/>
<path d="M158.1,406.56H163.6M158.1,409.56H163.6M160.85,406.56V409.56" stroke="#000" stroke-width="0.9" fill="none"/>
<path d="M158.65,408.06L160.85,406.46L163.05,408.06L160.85,409.66Z" fill="#000"/>
<path d="M205.05,405.08H210.55M205.05,408.08H210.55M207.8,405.08V408.08" stroke="#000" stroke-width="0.9" fill="none"/>
<path d="M205.6,406.58L207.8,404.98L210,406.58L207.8,408.18Z" fill="#000"/>
<text x="46.8" y="390.2" text-anchor="start" font-size="28" fill="#000" stroke="#000" stroke-width="0.2">e</text>
<text x="130.8" y="543.68" text-anchor="middle" font-size="14.5" fill="#000" stroke="#000" stroke-width="0.2">Concentration of NaCl (mM/mL)</text>
<text transform="translate(13.9,439.2) rotate(-90)" text-anchor="middle" font-size="12" fill="#000" stroke="#000" stroke-width="0.2">Normalized Intensity</text>
<polyline points="306.25,397.74 328.59,396.56 350.93,396.86 373.27,400.56 395.61,403.37 417.95,406.48 440.29,411.8 462.63,417.72" fill="none" stroke="#dd2222" stroke-width="1.2"/>
<path d="M285.8,367.4H482.2V515.6H285.8Z" fill="none" stroke="#000" stroke-width="1.3"/>
<line x1="306.25" y1="515.6" x2="306.25" y2="512.6" stroke="#000" stroke-width="1.1"/>
<text x="306.25" y="527.1" text-anchor="middle" font-size="9.5" fill="#000" stroke="#000" stroke-width="0.2">20</text>
<line x1="328.59" y1="515.6" x2="328.59" y2="512.6" stroke="#000" stroke-width="1.1"/>
<text x="328.59" y="527.1" text-anchor="middle" font-size="9.5" fill="#000" stroke="#000" stroke-width="0.2">30</text>
<line x1="350.93" y1="515.6" x2="350.93" y2="512.6" stroke="#000" stroke-width="1.1"/>
<text x="350.93" y="527.1" text-anchor="middle" font-size="9.5" fill="#000" stroke="#000" stroke-width="0.2">40</text>
<line x1="373.27" y1="515.6" x2="373.27" y2="512.6" stroke="#000" stroke-width="1.1"/>
<text x="373.27" y="527.1" text-anchor="middle" font-size="9.5" fill="#000" stroke="#000" stroke-width="0.2">50</text>
<line x1="395.61" y1="515.6" x2="395.61" y2="512.6" stroke="#000" stroke-width="1.1"/>
<text x="395.61" y="527.1" text-anchor="middle" font-size="9.5" fill="#000" stroke="#000" stroke-width="0.2">60</text>
<line x1="417.95" y1="515.6" x2="417.95" y2="512.6" stroke="#000" stroke-width="1.1"/>
<text x="417.95" y="527.1" text-anchor="middle" font-size="9.5" fill="#000" stroke="#000" stroke-width="0.2">70</text>
<line x1="440.29" y1="515.6" x2="440.29" y2="512.6" stroke="#000" stroke-width="1.1"/>
<text x="440.29" y="527.1" text-anchor="middle" font-size="9.5" fill="#000" stroke="#000" stroke-width="0.2">80</text>
<line x1="462.63" y1="515.6" x2="462.63" y2="512.6" stroke="#000" stroke-width="1.1"/>
<text x="462.63" y="527.1" text-anchor="middle" font-size="9.5" fill="#000" stroke="#000" stroke-width="0.2">90</text>
<line x1="285.8" y1="500.9" x2="287.6" y2="500.9" stroke="#000" stroke-width="1"/>
<line x1="285.8" y1="471.3" x2="287.6" y2="471.3" stroke="#000" stroke-width="1"/>
<line x1="285.8" y1="441.7" x2="287.6" y2="441.7" stroke="#000" stroke-width="1"/>
<line x1="285.8" y1="412.1" x2="287.6" y2="412.1" stroke="#000" stroke-width="1"/>
<line x1="285.8" y1="382.5" x2="287.6" y2="382.5" stroke="#000" stroke-width="1"/>
<line x1="285.8" y1="515.7" x2="288.8" y2="515.7" stroke="#000" stroke-width="1.1"/>
<text x="282.4" y="518.6" text-anchor="end" font-size="9.5" fill="#000" stroke="#000" stroke-width="0.2">0.2</text>
<line x1="285.8" y1="486.1" x2="288.8" y2="486.1" stroke="#000" stroke-width="1.1"/>
<text x="282.4" y="489" text-anchor="end" font-size="9.5" fill="#000" stroke="#000" stroke-width="0.2">0.4</text>
<line x1="285.8" y1="456.5" x2="288.8" y2="456.5" stroke="#000" stroke-width="1.1"/>
<text x="282.4" y="459.4" text-anchor="end" font-size="9.5" fill="#000" stroke="#000" stroke-width="0.2">0.6</text>
<line x1="285.8" y1="426.9" x2="288.8" y2="426.9" stroke="#000" stroke-width="1.1"/>
<text x="282.4" y="429.8" text-anchor="end" font-size="9.5" fill="#000" stroke="#000" stroke-width="0.2">0.8</text>
<line x1="285.8" y1="397.3" x2="288.8" y2="397.3" stroke="#000" stroke-width="1.1"/>
<text x="282.4" y="400.2" text-anchor="end" font-size="9.5" fill="#000" stroke="#000" stroke-width="0.2">1.0</text>
<line x1="285.8" y1="367.7" x2="288.8" y2="367.7" stroke="#000" stroke-width="1.1"/>
<text x="282.4" y="370.6" text-anchor="end" font-size="9.5" fill="#000" stroke="#000" stroke-width="0.2">1.2</text>
<path d="M303.5,396.74H309M303.5,398.74H309M306.25,396.74V398.74" stroke="#000" stroke-width="0.9" fill="none"/>
<path d="M304.05,397.74L306.25,396.14L308.45,397.74L306.25,399.34Z" fill="#000"/>
<path d="M325.84,395.36H331.34M325.84,397.76H331.34M328.59,395.36V397.76" stroke="#000" stroke-width="0.9" fill="none"/>
<path d="M326.39,396.56L328.59,394.96L330.79,396.56L328.59,398.16Z" fill="#000"/>
<path d="M348.18,395.56H353.68M348.18,398.16H353.68M350.93,395.56V398.16" stroke="#000" stroke-width="0.9" fill="none"/>
<path d="M348.73,396.86L350.93,395.26L353.13,396.86L350.93,398.46Z" fill="#000"/>
<path d="M370.52,399.26H376.02M370.52,401.86H376.02M373.27,399.26V401.86" stroke="#000" stroke-width="0.9" fill="none"/>
<path d="M371.07,400.56L373.27,398.96L375.47,400.56L373.27,402.16Z" fill="#000"/>
<path d="M392.86,402.17H398.36M392.86,404.57H398.36M395.61,402.17V404.57" stroke="#000" stroke-width="0.9" fill="none"/>
<path d="M393.41,403.37L395.61,401.77L397.81,403.37L395.61,404.97Z" fill="#000"/>
<path d="M415.2,405.18H420.7M415.2,407.78H420.7M417.95,405.18V407.78" stroke="#000" stroke-width="0.9" fill="none"/>
<path d="M415.75,406.48L417.95,404.88L420.15,406.48L417.95,408.08Z" fill="#000"/>
<path d="M437.54,410.1H443.04M437.54,413.5H443.04M440.29,410.1V413.5" stroke="#000" stroke-width="0.9" fill="none"/>
<path d="M438.09,411.8L440.29,410.2L442.49,411.8L440.29,413.4Z" fill="#000"/>
<path d="M459.88,415.62H465.38M459.88,419.82H465.38M462.63,415.62V419.82" stroke="#000" stroke-width="0.9" fill="none"/>
<path d="M460.43,417.72L462.63,416.12L464.83,417.72L462.63,419.32Z" fill="#000"/>
<text x="295.2" y="392.6" text-anchor="start" font-size="28" fill="#000" stroke="#000" stroke-width="0.2">f</text>
<text x="385.3" y="543.38" text-anchor="middle" font-size="14.5" fill="#000" stroke="#000" stroke-width="0.2">Temperature (°C)</text>
<text transform="translate(259.8,440.4) rotate(-90)" text-anchor="middle" font-size="12" fill="#000" stroke="#000" stroke-width="0.2">Normalized Intensity</text>
</svg></body></html>
